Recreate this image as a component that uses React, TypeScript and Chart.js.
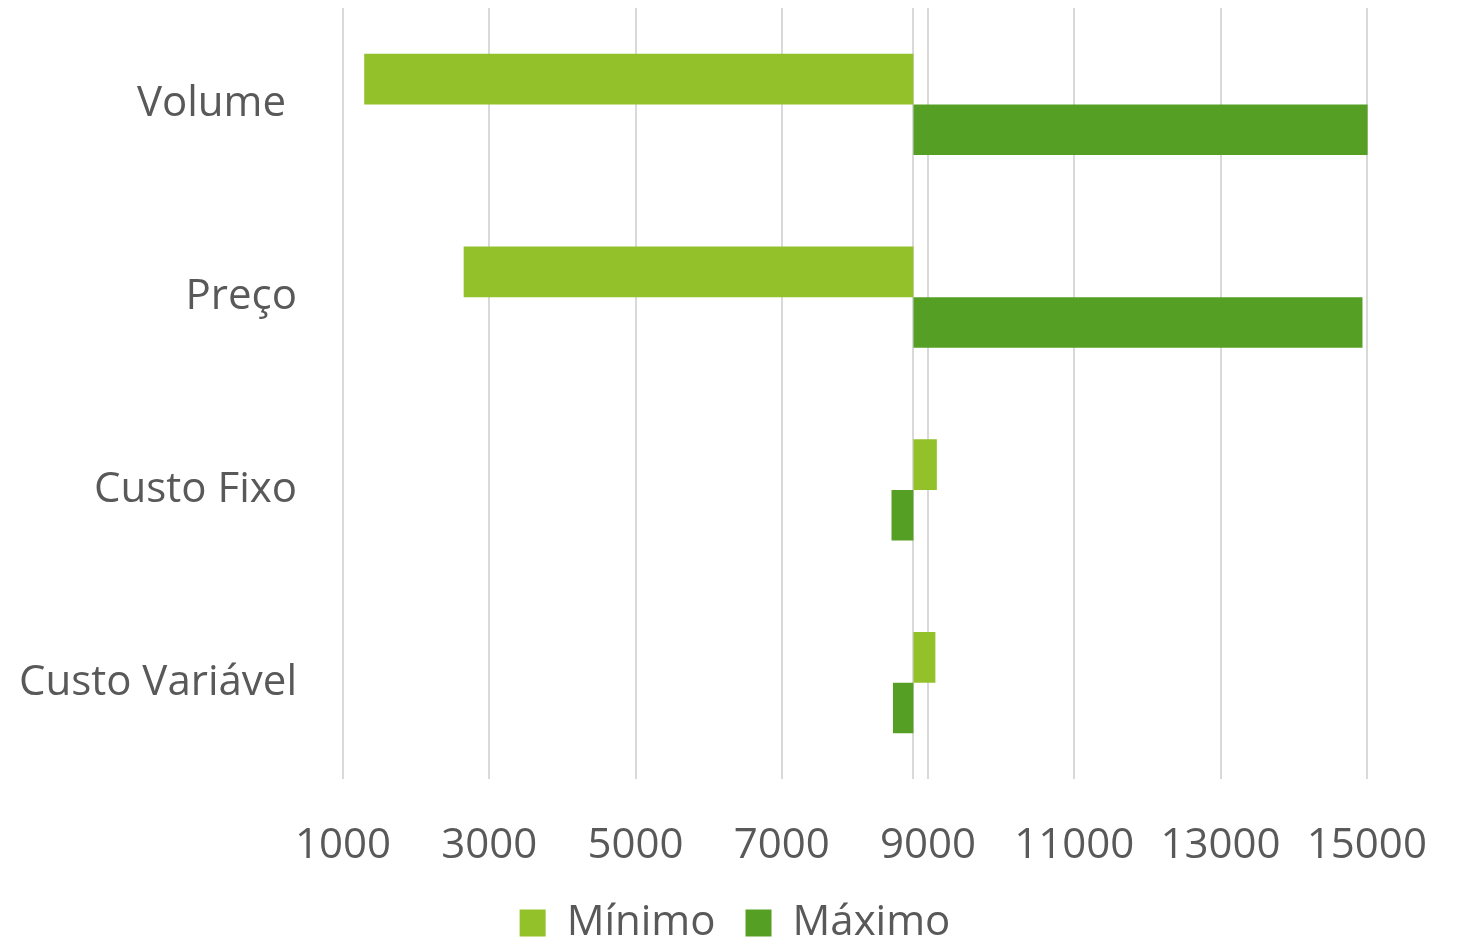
import React, { useEffect, useRef } from "react";
import { Chart, registerables } from "chart.js";

Chart.register(...registerables);

const categories = ["Volume ", "Preço", "Custo Fixo", "Custo Variável"];
const baseValue = 8800;
const minimoValues = [1290, 2650, 9120, 9100];
const maximoValues = [15010, 14940, 8500, 8520];
const xTickValues = [1000, 3000, 5000, 7000, 9000, 11000, 13000, 15000];
const seriesNames = ["Mínimo", "Máximo"];
const seriesColors = ["#92C12A", "#55A024"];

const FONT = "'Open Sans', 'Noto Sans', sans-serif";
const TEXT = "#595959";

const legendOffset = {
  id: "legendOffset",
  afterLayout(chart: any) {
    const lg = chart.legend;
    if (lg) {
      lg.left += 15;
      lg.right += 15;
    }
  },
};

export default function App() {
  const ref = useRef<HTMLCanvasElement>(null);
  useEffect(() => {
    const chart = new Chart(ref.current!, {
      type: "bar",
      data: {
        labels: categories,
        datasets: [
          {
            label: seriesNames[0],
            data: minimoValues.map((v) => [baseValue, v]) as any,
            backgroundColor: seriesColors[0],
            borderWidth: 0,
          },
          {
            label: seriesNames[1],
            data: maximoValues.map((v) => [baseValue, v]) as any,
            backgroundColor: seriesColors[1],
            borderWidth: 0,
          },
        ],
      },
      options: {
        indexAxis: "y",
        animation: false,
        responsive: true,
        maintainAspectRatio: false,
        layout: { padding: { left: 0, right: 18, top: 8, bottom: -15 } },
        datasets: { bar: { categoryPercentage: 0.525, barPercentage: 1 } },
        scales: {
          x: {
            type: "linear",
            min: 1000,
            max: 16000,
            afterBuildTicks: (s: any) => {
              s.ticks = [...xTickValues, baseValue]
                .sort((a, b) => a - b)
                .map((v) => ({ value: v }));
            },
            afterFit: (s: any) => {
              s.height = 93;
              s.paddingLeft = 0;
              s.paddingRight = 0;
            },
            ticks: {
              autoSkip: false,
              maxRotation: 0,
              padding: 42,
              color: TEXT,
              font: { family: FONT, size: 42 },
              callback: (v: any) => (xTickValues.includes(Number(v)) ? String(v) : ""),
            },
            grid: { color: "#d9d9d9", lineWidth: 2, drawTicks: false },
            border: { display: false },
          },
          y: {
            afterFit: (s: any) => {
              s.width = 343;
              s.paddingTop = 0;
              s.paddingBottom = 0;
            },
            ticks: {
              padding: 46,
              color: TEXT,
              font: { family: FONT, size: 42 },
            },
            grid: { display: false, drawTicks: false },
            border: { display: false },
          },
        } as any,
        plugins: {
          legend: {
            position: "bottom",
            labels: {
              color: TEXT,
              font: { family: FONT, size: 42 },
              boxWidth: 26,
              boxHeight: 27,
              padding: 30,
            },
          },
          tooltip: { enabled: false },
        },
      },
      plugins: [legendOffset],
    });
    return () => chart.destroy();
  }, []);
  return (
    <div style={{ position: "fixed", left: 0, top: 0, width: 1458, height: 939 }}>
      <canvas ref={ref} />
    </div>
  );
}
